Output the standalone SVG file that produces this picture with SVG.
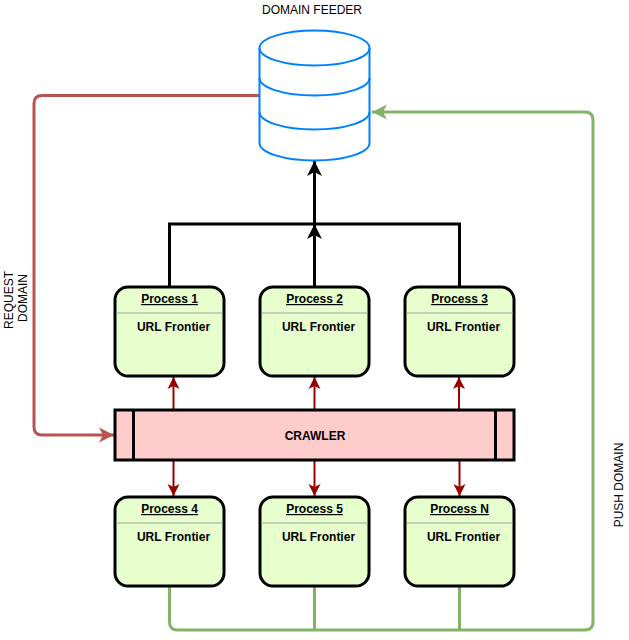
<svg xmlns="http://www.w3.org/2000/svg" width="629" height="640" viewBox="0 0 629 640">
<style>
text{font-family:"Liberation Sans",Arial,sans-serif;font-size:12px;fill:#000;text-anchor:middle}
.b{font-weight:bold}
.t{text-decoration:underline}
.box{fill:#e6ffcc;stroke:#000;stroke-width:3}
.sep{stroke:#a0a0a0;stroke-width:1;fill:none}
.db{fill:#fff;stroke:#007fff;stroke-width:2}
.dbl{fill:none;stroke:#007fff;stroke-width:2}
.k{fill:none;stroke:#000;stroke-width:3}
.g{fill:none;stroke:#82b366;stroke-width:3}
.r{fill:none;stroke:#b85450;stroke-width:3}
.d{fill:none;stroke:#990000;stroke-width:2}
</style>
<defs>
<marker id="ak" markerUnits="userSpaceOnUse" markerWidth="16" markerHeight="16" refX="15" refY="8" orient="auto"><path d="M15 8L0 0.5L4 8L0 15.500Z" fill="#000"/></marker>
<marker id="ag" markerUnits="userSpaceOnUse" markerWidth="16" markerHeight="16" refX="15" refY="8" orient="auto"><path d="M15 8L0 0.500L4 8L0 15.500Z" fill="#82b366"/></marker>
<marker id="ar" markerUnits="userSpaceOnUse" markerWidth="16" markerHeight="16" refX="15" refY="8" orient="auto"><path d="M15 8L0 0.500L4 8L0 15.500Z" fill="#b85450"/></marker>
<marker id="ad" markerUnits="userSpaceOnUse" markerWidth="13" markerHeight="14" refX="12" refY="7" orient="auto"><path d="M12 7L0 1L3 7L0 13Z" fill="#990000"/></marker>
</defs>
<g id="connectors">
<path class="k" d="M169.500 287V224H459.500V287"/>
<path class="k" marker-end="url(#ak)" d="M314.500 287V224"/>
<path class="k" marker-end="url(#ak)" d="M314.500 224V161"/>
<path class="r" marker-end="url(#ar)" d="M260 95.500H42Q34 95.500 34 103.500V427Q34 435 42 435H114"/>
<path class="g" marker-end="url(#ag)" d="M169.500 587V622Q169.500 630 177.500 630H585Q593 630 593 622V120Q593 112 585 112H372"/>
<path class="g" d="M459.500 587V630M314.500 587V630"/>
<path class="d" marker-end="url(#ad)" d="M173.500 410V377"/>
<path class="d" marker-end="url(#ad)" d="M314.500 410V377"/>
<path class="d" marker-end="url(#ad)" d="M459 410V377"/>
<path class="d" marker-end="url(#ad)" d="M173.500 461V496"/>
<path class="d" marker-end="url(#ad)" d="M314.500 461V496"/>
<path class="d" marker-end="url(#ad)" d="M459.500 461V496"/>
</g>
<g id="domain-feeder">
<path class="db" d="M259.500 48A55 17.500 0 0 1 369.500 48V143A55 17.500 0 0 1 259.500 143Z"/>
<path class="dbl" d="M259.500 48A55 17.500 0 0 0 369.500 48"/>
<path class="dbl" d="M259.500 78A55 17.500 0 0 0 369.500 78"/>
<path class="dbl" d="M259.500 112A55 17.500 0 0 0 369.500 112"/>
<text x="312" y="14">DOMAIN FEEDER</text>
</g>
<g id="process-1"><rect class="box" x="115" y="287" width="109" height="89" rx="13"/><path class="sep" d="M116 313H223"/><text class="b t" x="169.500" y="303">Process 1</text><text class="b" x="173.500" y="331">URL Frontier</text></g>
<g id="process-2"><rect class="box" x="260" y="287" width="109" height="89" rx="13"/><path class="sep" d="M261 313H368"/><text class="b t" x="314.500" y="303">Process 2</text><text class="b" x="318.500" y="331">URL Frontier</text></g>
<g id="process-3"><rect class="box" x="405" y="287" width="109" height="89" rx="13"/><path class="sep" d="M406 313H513"/><text class="b t" x="459.500" y="303">Process 3</text><text class="b" x="463.500" y="331">URL Frontier</text></g>
<g id="crawler"><rect x="115" y="410" width="399" height="50" fill="#ffcccc" stroke="#000" stroke-width="3"/><path d="M133.500 410V460M495.500 410V460" stroke="#000" stroke-width="3" fill="none"/><text class="b" x="315" y="440">CRAWLER</text></g>
<g id="process-4"><rect class="box" x="115" y="497" width="109" height="89" rx="13"/><path class="sep" d="M116 523H223"/><text class="b t" x="169.500" y="513">Process 4</text><text class="b" x="173.500" y="541">URL Frontier</text></g>
<g id="process-5"><rect class="box" x="260" y="497" width="109" height="89" rx="13"/><path class="sep" d="M261 523H368"/><text class="b t" x="314.500" y="513">Process 5</text><text class="b" x="318.500" y="541">URL Frontier</text></g>
<g id="process-n"><rect class="box" x="405" y="497" width="109" height="89" rx="13"/><path class="sep" d="M406 523H513"/><text class="b t" x="459.500" y="513">Process N</text><text class="b" x="463.500" y="541">URL Frontier</text></g>
<g id="labels">
<text transform="translate(12.500 300) rotate(-90)">REQUEST</text>
<text transform="translate(26.500 298) rotate(-90)">DOMAIN</text>
<text transform="translate(623 485) rotate(-90)">PUSH DOMAIN</text>
</g>
</svg>
